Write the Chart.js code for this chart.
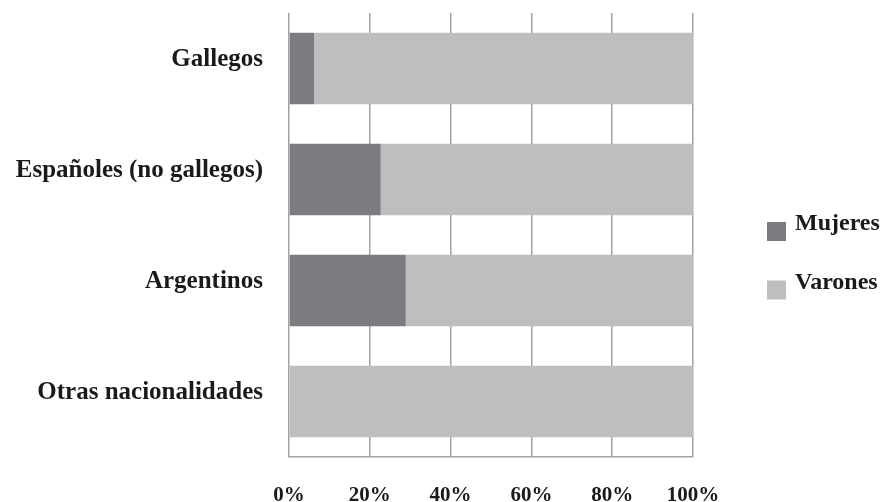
<!DOCTYPE html>
<html>
<head>
<meta charset="utf-8">
<script src="https://cdn.jsdelivr.net/npm/chart.js@4"></script>
<style>
  html, body { margin: 0; padding: 0; background: #fff; }
  #wrap { width: 882px; height: 502px; }
</style>
</head>
<body>
<div id="wrap"><canvas id="nacChart" width="882" height="502"></canvas></div>
<script>
const categories = ['Gallegos', 'Españoles (no gallegos)', 'Argentinos', 'Otras nacionalidades'];
const mujeres = [6.2, 22.7, 28.9, 0];
const varones = [93.8, 77.3, 71.1, 100];
const tickValues = [0, 20, 40, 60, 80, 100];

const serif = '"Liberation Serif", "DejaVu Serif", serif';

// legend drawn by hand so the box/text offset matches the original
const sideLegend = {
  id: 'sideLegend',
  afterDraw(chart) {
    const c = chart.ctx;
    const area = chart.chartArea;
    c.save();
    c.font = 'bold 24px ' + serif;
    c.textBaseline = 'alphabetic';
    c.textAlign = 'left';
    chart.data.datasets.forEach(function(ds, i) {
      const top = 222 + i * 58.5;
      c.fillStyle = ds.backgroundColor;
      c.fillRect(area.right + 74, top, 19, 19);
      c.fillStyle = '#1a1a1a';
      c.fillText(ds.label, area.right + 102, top + 8);
    });
    c.restore();
  }
};

document.addEventListener("DOMContentLoaded", function() {
  const ctx = document.getElementById('nacChart');
  new Chart(ctx.getContext('2d'), {
    type: 'bar',
    data: {
      labels: categories,
      datasets: [
        { label: 'Mujeres', data: mujeres, backgroundColor: '#7b7c7f', borderWidth: 0,
          barPercentage: 0.645, categoryPercentage: 1 },
        { label: 'Varones', data: varones, backgroundColor: '#bdbec0', borderWidth: 0,
          barPercentage: 0.645, categoryPercentage: 1 }
      ]
    },
    options: {
      indexAxis: 'y',
      responsive: false,
      animation: false,
      layout: { padding: { top: 13, right: 189, left: 0, bottom: 0 } },
      plugins: { legend: { display: false }, tooltip: { enabled: false } },
      scales: {
        x: {
          stacked: true,
          min: 0,
          max: 100,
          afterBuildTicks: function(scale) {
            scale.ticks = tickValues.map(function(v) { return { value: v }; });
          },
          afterFit: function(scale) { scale.height = 45; },
          grid: { color: '#a2a2a2', lineWidth: 1.5, drawTicks: false },
          border: { display: true, color: '#a2a2a2', width: 1.5 },
          ticks: {
            padding: 26,
            color: '#1a1a1a',
            font: { family: serif, size: 21, weight: 'bold' },
            callback: function(v) { return v + '%'; }
          }
        },
        y: {
          stacked: true,
          afterFit: function(scale) {
            scale.width = 289;
            scale.paddingTop = 0;
            scale.paddingBottom = 0;
          },
          grid: { display: false, drawTicks: false },
          border: { display: false },
          ticks: {
            padding: 26,
            labelOffset: -9,
            color: '#1a1a1a',
            font: { family: serif, size: 25, weight: 'bold' }
          }
        }
      }
    },
    plugins: [sideLegend]
  });
});
</script>
</body>
</html>
